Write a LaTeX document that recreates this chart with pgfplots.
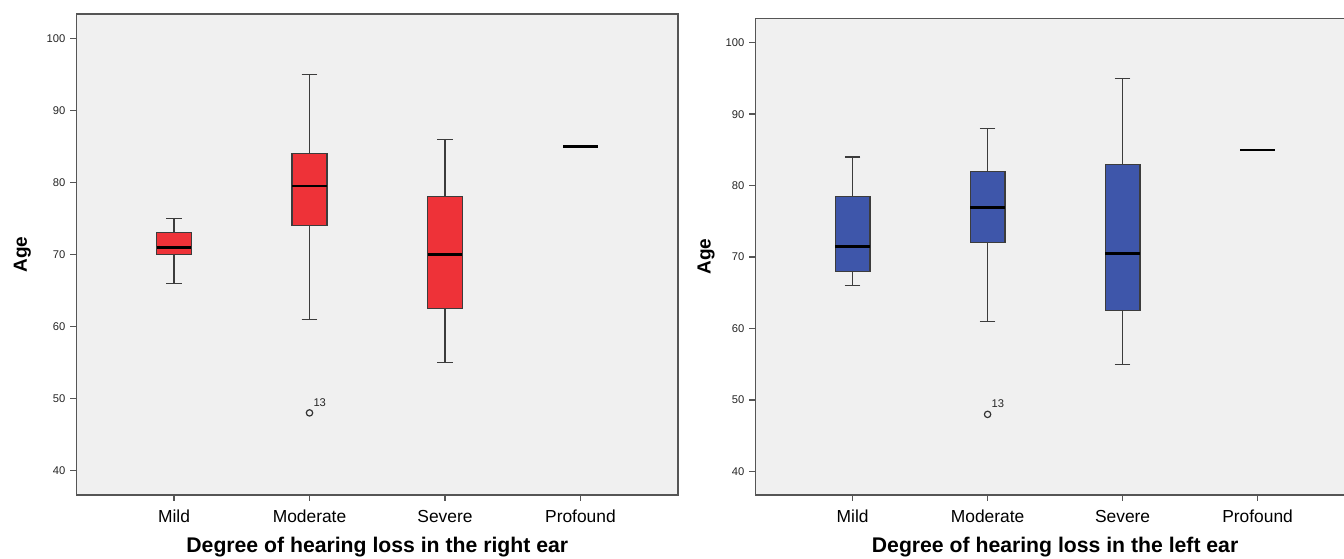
\documentclass[border=0pt]{standalone}
\usepackage{fontspec}
\setmainfont{Liberation Sans}
\usepackage{pgfplots}
\pgfplotsset{compat=1.18}
\usepgfplotslibrary{statistics}
\definecolor{bggray}{RGB}{240,240,240}
\definecolor{framegray}{RGB}{85,85,85}
\definecolor{boxred}{RGB}{238,50,56}
\definecolor{boxblue}{RGB}{62,86,170}
\definecolor{edgegray}{RGB}{60,60,60}
\pgfplotsset{
  spssbox/.style={
    scale only axis,
    axis background/.style={fill=bggray},
    axis line style={framegray, line width=0.85pt},
    xmin=0.28, xmax=4.72,
    xtick={1,2,3,4},
    xticklabels={Mild,Moderate,Severe,Profound},
    ytick={40,50,60,70,80,90,100},
    tick align=outside,
    tick pos=left,
    major tick length=3pt,
    tick style={framegray, line width=0.7pt},
    /pgf/number format/assume math mode=true,
    yticklabel style={font=\fontsize{5.6}{6}\selectfont, color=black!85, xshift=1pt},
    xticklabel style={font=\fontsize{8.7}{10}\selectfont, yshift=-1.2pt},
    xlabel style={font=\bfseries\fontsize{10.6}{12}\selectfont, yshift=-0.3pt},
    ylabel style={font=\bfseries\fontsize{9.5}{11}\selectfont, anchor=center},
    boxplot/draw direction=y,
    boxplot/box extend=0.257,
    boxplot/whisker extend=0.115,
    boxplot/every box/.style={draw=edgegray, line width=0.65pt},
    boxplot/every whisker/.style={draw=edgegray, line width=0.65pt},
    boxplot/every median/.style={draw=black, line width=1.4pt},
  },
}
\begin{document}
\begin{tikzpicture}
% ---------- right ear ----------
\begin{axis}[spssbox,
  at={(38.25pt,31.65pt)}, anchor=south west,
  width=300.75pt, height=240.25pt,
  ymin=36.64, ymax=103.36,
  xlabel={Degree of hearing loss in the right ear},
  ylabel={Age},
  ylabel style={at={(axis description cs:-0.09,0.5)}},
]
\addplot+[boxplot prepared={draw position=1, lower whisker=66, lower quartile=70, median=71, upper quartile=73, upper whisker=75}, fill=boxred, draw=edgegray, mark=none] coordinates {};
\addplot+[boxplot prepared={draw position=2, lower whisker=61, lower quartile=74, median=79.5, upper quartile=84, upper whisker=95}, fill=boxred, draw=edgegray, mark=o, mark size=1.6pt, mark options={draw=black!80, line width=0.6pt, fill=none}] coordinates {(2,48)};
\addplot+[boxplot prepared={draw position=3, lower whisker=55, lower quartile=62.5, median=70, upper quartile=78, upper whisker=86}, fill=boxred, draw=edgegray, mark=none] coordinates {};
\addplot+[boxplot prepared={draw position=4, lower whisker=85, lower quartile=85, median=85, upper quartile=85, upper whisker=85}, draw=black, line width=1.2pt, mark=none,
  boxplot/every box/.style={draw=black, line width=1.2pt}, boxplot/whisker extend=0] coordinates {};
\node[anchor=south west, inner sep=0pt, font=\fontsize{5.6}{6}\selectfont, color=black!85, xshift=1.8pt, yshift=3pt] at (axis cs:2,48) {13};
\end{axis}
% ---------- left ear ----------
\begin{axis}[spssbox,
  at={(377.7pt,31.65pt)}, anchor=south west,
  width=299.7pt, height=238.1pt,
  ymin=36.76, ymax=103.39,
  xlabel={Degree of hearing loss in the left ear},
  ylabel={Age},
  ylabel style={at={(axis description cs:-0.0824,0.5)}},
]
\addplot+[boxplot prepared={draw position=1, lower whisker=66, lower quartile=68, median=71.5, upper quartile=78.5, upper whisker=84}, fill=boxblue, draw=edgegray, mark=none] coordinates {};
\addplot+[boxplot prepared={draw position=2, lower whisker=61, lower quartile=72, median=77, upper quartile=82, upper whisker=88}, fill=boxblue, draw=edgegray, mark=o, mark size=1.6pt, mark options={draw=black!80, line width=0.6pt, fill=none}] coordinates {(2,48)};
\addplot+[boxplot prepared={draw position=3, lower whisker=55, lower quartile=62.5, median=70.5, upper quartile=83, upper whisker=95}, fill=boxblue, draw=edgegray, mark=none] coordinates {};
\addplot+[boxplot prepared={draw position=4, lower whisker=85, lower quartile=85, median=85, upper quartile=85, upper whisker=85}, draw=black, line width=1.2pt, mark=none,
  boxplot/every box/.style={draw=black, line width=1.2pt}, boxplot/whisker extend=0] coordinates {};
\node[anchor=south west, inner sep=0pt, font=\fontsize{5.6}{6}\selectfont, color=black!85, xshift=1.8pt, yshift=3pt] at (axis cs:2,48) {13};
\end{axis}
\pgfresetboundingbox
\path[use as bounding box] (0,0) rectangle (672pt,279pt);
\end{tikzpicture}
\end{document}
